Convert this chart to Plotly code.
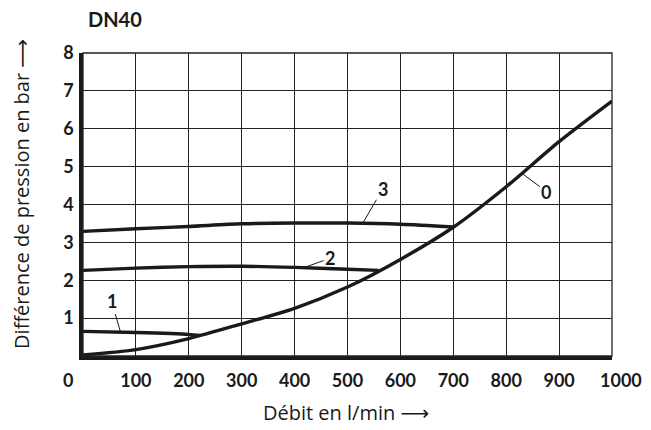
import plotly.graph_objects as go

# ---- data ----
flow0 = [0, 100, 200, 300, 400, 500, 600, 700, 800, 900, 1000]
dp0 = [0.03, 0.17, 0.46, 0.85, 1.26, 1.82, 2.55, 3.40, 4.47, 5.66, 6.73]

flow1 = [0, 100, 200, 221]
dp1 = [0.65, 0.62, 0.57, 0.54]

flow2 = [0, 100, 200, 300, 400, 500, 559]
dp2 = [2.26, 2.32, 2.36, 2.37, 2.34, 2.29, 2.26]

flow3 = [0, 100, 200, 300, 400, 500, 600, 700]
dp3 = [3.29, 3.36, 3.42, 3.49, 3.51, 3.51, 3.48, 3.41]

x_ticks = [100, 200, 300, 400, 500, 600, 700, 800, 900]
y_ticks = [1, 2, 3, 4, 5, 6, 7, 8]

# curve labels: name, point on curve (x, y), label position (x, y)
curve_labels = [
    ("0", 830, 4.82, 876, 4.34),
    ("1", 71, 0.63, 54, 1.44),
    ("2", 417, 2.33, 467, 2.58),
    ("3", 529, 3.51, 567, 4.42),
]

INK = "#1a1a1a"
BOLD = dict(family="Lato", size=18, color=INK, weight="bold")
REG = dict(family="Open Sans", size=20, color=INK)
ARROW = '<span style="font-family:DejaVu Sans">\u27f6</span>'

fig = go.Figure()
for xs, ys in [(flow0, dp0), (flow1, dp1), (flow2, dp2), (flow3, dp3)]:
    fig.add_trace(go.Scatter(x=xs, y=ys, mode="lines",
                             line=dict(color=INK, width=3.4, shape="spline", smoothing=0.8),
                             hoverinfo="skip", showlegend=False))

annotations = []
for name, px, py, lx, ly in curve_labels:
    annotations.append(dict(x=px, y=py, xref="x", yref="y", ax=lx, ay=ly,
                            axref="x", ayref="y", text=name, showarrow=True,
                            arrowhead=0, arrowwidth=1, arrowcolor=INK,
                            font=BOLD, standoff=0))

# end tick labels (offset as in the reference)
annotations.append(dict(x=0, y=0, xref="x", yref="paper", text="0", showarrow=False,
                        xshift=-15, yshift=-24, yanchor="middle", font=BOLD))
annotations.append(dict(x=1000, y=0, xref="x", yref="paper", text="1000", showarrow=False,
                        xshift=9, yshift=-24, yanchor="middle", font=BOLD))

annotations.append(dict(x=0.0076, y=1.112, xref="paper", yref="paper", text="DN40",
                        showarrow=False, xanchor="left", yanchor="middle", borderpad=0,
                        font=dict(family="Lato", size=20, color=INK, weight="bold")))
annotations.append(dict(x=-0.1153, y=0.535, xref="paper", yref="paper",
                        text="Différence de pression en bar " + ARROW, textangle=-90,
                        showarrow=False, xanchor="center", yanchor="middle", font=REG))
annotations.append(dict(x=0.497, y=-0.188, xref="paper", yref="paper",
                        text="Débit en l/min " + ARROW,
                        showarrow=False, xanchor="center", yanchor="middle", font=REG))

# page body adds an 8 px offset, so the figure is 8 px smaller on each side
fig.update_layout(
    width=643, height=422,
    margin=dict(l=75, r=39, t=45, b=74),
    paper_bgcolor="white", plot_bgcolor="white",
    annotations=annotations,
    shapes=[dict(type="rect", xref="paper", yref="paper", x0=0, y0=0, x1=1, y1=1,
                 line=dict(color="#222", width=1.3), layer="above")],
)
fig.update_xaxes(range=[0, 1000], tickvals=x_ticks, ticks="", showgrid=True,
                 gridcolor="#222", gridwidth=1.3, showline=True, linecolor=INK,
                 linewidth=3.5, zeroline=False, tickfont=BOLD, ticklabelstandoff=6,
                 fixedrange=True)
fig.update_yaxes(range=[0, 8], tickvals=y_ticks, ticks="", showgrid=True,
                 gridcolor="#222", gridwidth=1.3, showline=True, linecolor=INK,
                 linewidth=3.5, zeroline=False, tickfont=BOLD, ticklabelstandoff=2,
                 fixedrange=True)

fig.write_html("out.html")
